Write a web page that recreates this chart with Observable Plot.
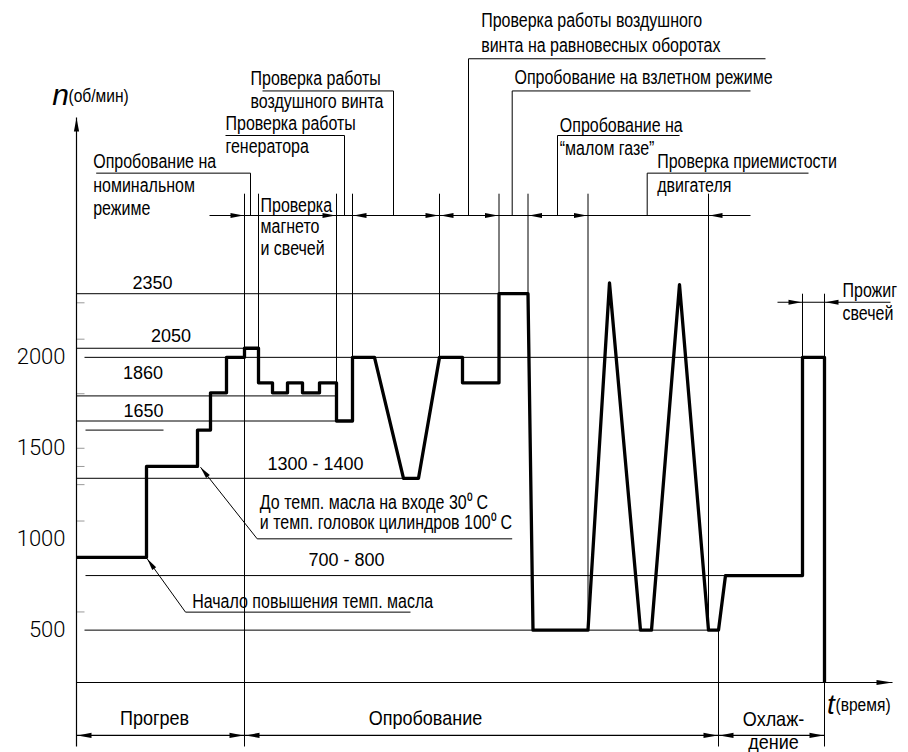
<!DOCTYPE html>
<html><head><meta charset="utf-8">
<script src="https://cdn.jsdelivr.net/npm/d3@7"></script>
<script src="https://cdn.jsdelivr.net/npm/@observablehq/plot@0.6"></script>
<style>
body{margin:0;background:#fff;}
svg g[aria-label^="y-axis"] text{font-size:22px;font-family:Roboto,'Liberation Sans',Arial,sans-serif;font-weight:300;}
</style></head><body><div id="chart"></div>
<script>
// ---------- data (time in arbitrary units, n in rpm) ----------
const yTicks = [500, 1000, 1500, 2000];
const minorTicks = [600, 1100, 1300, 1400, 1500, 1800, 2100, 2300];

// engine speed curve
const curveT = [0,70,70,121,121,134,134,150,150,168,168,182,182,196,196,211,211,226,226,243,243,260,260,276,276,298,327,342,363,386,386,422.5,422.5,451.5,456.5,511.5,533,564,575,603,632,642,649,726,726,748,748];
const curveN = [900,900,1400,1400,1600,1600,1805,1805,2000,2000,2050,2050,1860,1860,1805,1805,1860,1860,1805,1805,1860,1860,1650,1650,2000,2000,1335,1335,2000,2000,1860,1860,2350,2350,500,500,2410,500,500,2400,500,500,800,800,2000,2000,212];

// reference levels
const levelN     = [2350, 2050, 2000, 1788, 1650, 1600, 1335, 800, 500];
const levelStart = [0,    0,    8,    0,    0,    9,    0,    9,   8];
const levelEnd   = [422.5,168,  726,  260,  276,  87,   342,  649, 642];
const levelText  = ["2350", "2050", "1860", "1650", "1300 - 1400", "700 - 800"];
const levelTextT = [76, 94.5, 66.5, 67, 239, 270];
const levelTextN = [2410, 2115, 1915, 1704, 1415, 883];

// stage boundaries and names
const stageBounds = [0, 168, 642, 748];
const stageNames  = ["Прогрев", "Опробование", "Охлаж-", "дение"];
const stageNameT  = [78, 349, 697, 697];
const stageNameN  = [14, 14, 9, -120];

// operation boundaries (vertical marker lines)
const opT    = [168, 182, 260, 276, 363, 422.5, 451.5, 511.5, 632, 642, 748, 726, 748];
const opTop  = [2900,2900,2900,2900,2900,2900, 2900, 2900, 2900, 500, 212, 2350, 2350];
const opBot  = [-140,2050,1650,1650,2000,2350, 2350, 500,  500, -140,-140, 2000, 2000];

// operation notes
const noteText = ["Опробование на","номинальном","режиме","Проверка работы","генератора","Проверка работы","воздушного винта",
  "Проверка работы воздушного","винта на равновесных оборотах","Опробование на взлетном режиме","Опробование на","“малом газе”",
  "Проверка приемистости","двигателя","Проверка","магнето","и свечей",
  "До темп. масла на входе 30⁰ С","и темп. головок цилиндров 100⁰ С","Начало повышения темп. масла","Прожиг","свечей"];
const noteT = [16.7,16.7,16.7,149,149,174,174,404.7,404.7,438,483.3,483.3,580.7,580.7,184,184,184,183.3,183.3,115.7,766,766];
const noteN = [3073,2945,2818,3284,3156,3532,3403,3849,3715,3535,3275,3146,3073,2945,2835,2716,2599,1203,1093,654,2368,2240];

// leader polylines
const leaderId = [1,1,1, 2,2,2, 3,3,3, 4,4,4, 5,5,5, 6,6,6, 7,7,7, 8,8,8, 9,9,9];
const leaderT  = [19.7,174,174, 149,268,268, 186,317,317, 689,392,392, 674,435.7,435.7, 603,481,481, 732,570.7,570.7, 435.7,180.7,124, 334,109,70.7];
const leaderN  = [3013,3013,2780, 3220,3220,2780, 3465,3465,2780, 3642,3642,2780, 3465,3465,2780, 3220,3220,2780, 3013,3013,2780, 1002,1002,1396, 599,599,892];

// dimension lines
const dimTopN = 2780, dimTopFrom = 133, dimTopTo = 674;
const dimTopRight = [167, 259, 362, 421.5, 510.5];
const dimTopLeft  = [277, 364, 452.5, 633];
const dimBotN = -79;
const dimBotRight = [167, 641, 747];
const dimBotLeft  = [1, 169, 643];
const burnN = 2303, burnFrom = 701, burnTo = 814;
const burnRight = [725], burnLeft = [749];

// ---------- layout ----------
const W = 908, H = 752, ML = 76, MR = 16, MT = 117, MB = 70;
const T_MAX = 816, N_MIN = 212, N_MAX = 3319;
const KX = (W - ML - MR) / T_MAX, KY = (H - MT - MB) / (N_MAX - N_MIN);
const REG = "'Liberation Sans',Arial,sans-serif";

function head(dt, dn, len, half) {
  const dx = dt * KX, dy = -dn * KY, L = Math.hypot(dx, dy), ux = dx / L, uy = dy / L;
  return {draw(ctx) {
    ctx.moveTo(0, 0);
    ctx.lineTo(-ux * len - uy * half, -uy * len + ux * half);
    ctx.lineTo(-ux * len + uy * half, -uy * len - ux * half);
    ctx.closePath();
  }};
}
const pts = (ts, n) => ts.map(t => ({t, n}));
const arrows = (data, sym) => Plot.dot(data, {x: "t", y: "n", symbol: sym, fill: "#000", stroke: "none", r: 3});

const curve = curveT.map((t, i) => ({t, n: curveN[i]}));
const levels = levelN.map((n, i) => ({n, t1: levelStart[i], t2: levelEnd[i]}));
const ops = opT.map((t, i) => ({t, n1: opTop[i], n2: opBot[i]}));
const leaders = leaderT.map((t, i) => ({t, n: leaderN[i], id: leaderId[i]}));
const notes = noteText.map((s, i) => ({s, t: noteT[i], n: noteN[i]}));
const lvlLabels = levelText.map((s, i) => ({s, t: levelTextT[i], n: levelTextN[i]}));
const stages = stageNames.map((s, i) => ({s, t: stageNameT[i], n: stageNameN[i]}));
const segs = [
  {t1: dimTopFrom, t2: dimTopTo, n1: dimTopN, n2: dimTopN},
  {t1: stageBounds[0], t2: stageBounds[3], n1: dimBotN, n2: dimBotN},
  {t1: burnFrom, t2: burnTo, n1: burnN, n2: burnN},
  {t1: 0, t2: T_MAX, n1: N_MIN, n2: N_MIN},
  {t1: 0, t2: 0, n1: -140, n2: N_MAX}
];

const chart = Plot.plot({
  width: W, height: H,
  marginLeft: ML, marginRight: MR, marginTop: MT, marginBottom: MB,
  style: {background: "#fff", fontFamily: REG, overflow: "visible"},
  x: {domain: [0, T_MAX], axis: null},
  y: {domain: [N_MIN, N_MAX], ticks: yTicks, tickSize: 0, tickPadding: 11, tickFormat: d => String(d), label: null},
  marks: [
    Plot.link(minorTicks, {x1: 0, x2: 8, y1: d => d, y2: d => d, stroke: "#999", strokeWidth: 1}),
    Plot.link(levels, {x1: "t1", x2: "t2", y1: "n", y2: "n", stroke: "#000", strokeWidth: 1}),
    Plot.link(ops, {x1: "t", x2: "t", y1: "n1", y2: "n2", stroke: "#000", strokeWidth: 1}),
    Plot.link(segs, {x1: "t1", x2: "t2", y1: "n1", y2: "n2", stroke: "#000", strokeWidth: 1.2}),
    Plot.line(leaders, {x: "t", y: "n", z: "id", stroke: "#000", strokeWidth: 1, strokeLinejoin: "miter", strokeLinecap: "butt"}),
    Plot.line(curve, {x: "t", y: "n", stroke: "#000", strokeWidth: 3.3, strokeLinejoin: "round", strokeLinecap: "butt"}),
    arrows(pts(dimTopRight, dimTopN), head(1, 0, 13, 2.6)),
    arrows(pts(dimTopLeft, dimTopN), head(-1, 0, 13, 2.6)),
    arrows(pts(dimBotRight, dimBotN), head(1, 0, 14, 2.6)),
    arrows(pts(dimBotLeft, dimBotN), head(-1, 0, 14, 2.6)),
    arrows(pts(burnRight, burnN), head(1, 0, 13, 2.6)),
    arrows(pts(burnLeft, burnN), head(-1, 0, 13, 2.6)),
    arrows([{t: 0, n: N_MAX}], head(0, 1, 14, 2.6)),
    arrows([{t: T_MAX, n: N_MIN}], head(1, 0, 16, 2.6)),
    arrows([{t: leaderT[23], n: leaderN[23]}], head(leaderT[23] - leaderT[22], leaderN[23] - leaderN[22], 12, 2.4)),
    arrows([{t: leaderT[26], n: leaderN[26]}], head(leaderT[26] - leaderT[25], leaderN[26] - leaderN[25], 12, 2.4)),
    Plot.text(notes, {x: "t", y: "n", text: "s", textAnchor: "start", fontSize: 19.5, fontFamily: REG, fill: "#000"}),
    Plot.text(lvlLabels, {x: "t", y: "n", text: "s", fontSize: 18, fontFamily: REG, fill: "#000"}),
    Plot.text(stages, {x: "t", y: "n", text: "s", fontSize: 20, fontFamily: REG, fill: "#000"}),
    Plot.text([{t: -16, n: 3440}], {x: "t", y: "n", text: () => "n", fontSize: 30, fontStyle: "italic", fontFamily: REG, fill: "#000"}),
    Plot.text([{t: -8, n: 3440}], {x: "t", y: "n", text: () => "(об/мин)", textAnchor: "start", fontSize: 19, fontFamily: REG, fill: "#000"}),
    Plot.text([{t: 754.5, n: 86}], {x: "t", y: "n", text: () => "t", fontSize: 28, fontStyle: "italic", fontFamily: REG, fill: "#000"}),
    Plot.text([{t: 759, n: 86}], {x: "t", y: "n", text: () => "(время)", textAnchor: "start", fontSize: 19, fontFamily: REG, fill: "#000"})
  ]
});
document.getElementById("chart").appendChild(chart);

// condensed lettering, as in the original drawing
const textGroups = chart.querySelectorAll('g[aria-label="text"]');
const squeeze = {0: 0.82, 2: 0.9, 4: 0.82, 6: 0.82};
Object.entries(squeeze).forEach(([i, k]) => {
  const g = textGroups[+i];
  if (!g) return;
  g.querySelectorAll("text").forEach(el => {
    const tr = el.getAttribute("transform");
    if (tr) el.setAttribute("transform", tr + ` scale(${k},1)`);
  });
});
</script></body></html>
